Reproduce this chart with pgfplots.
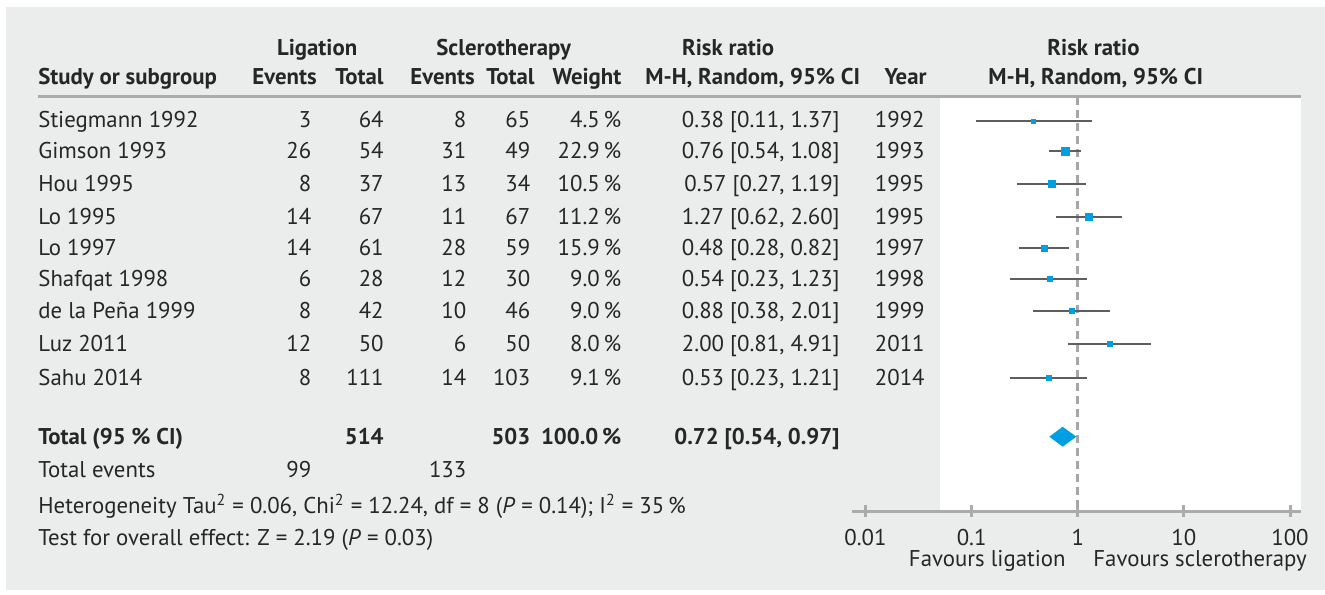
\documentclass[border=0pt]{standalone}
\usepackage{pgfplots}
\pgfplotsset{compat=1.18}
\usepackage{fontspec}
\setmainfont{PT Sans}
\definecolor{bg}{HTML}{EBECEC}
\definecolor{txt}{HTML}{262626}
\definecolor{rule}{HTML}{ABABAB}
\definecolor{mblue}{HTML}{009FE3}
\definecolor{cigray}{HTML}{5E5E5E}
\definecolor{dashgray}{HTML}{A6A6A6}

\begin{document}
\begin{tikzpicture}[font=\fontsize{11.4}{13.7}\selectfont, color=txt]
\begin{scope}[x=0.5pt,y=-0.5pt]
\fill[white] (0,0) rectangle (1325,594);
\fill[bg] (6,7) rectangle (1325,590);
\fill[white] (940,97.5) rectangle (1301,511);
\draw[rule, line width=1.5pt] (38,96) -- (1301,96);

\tikzset{L/.style={anchor=base west, inner sep=0pt}, R/.style={anchor=base east, inner sep=0pt}}
% header
\node[L] at (276.7,55) {\bfseries Ligation};
\node[L] at (436,55) {\bfseries Sclerotherapy};
\node[L] at (681.7,55) {\bfseries Risk ratio};
\node[L] at (1047,55) {\bfseries Risk ratio};
\node[L] at (38,84) {\bfseries Study or subgroup};
\node[R] at (317,84) {\bfseries Events};
\node[R] at (384,84) {\bfseries Total};
\node[R] at (475,84) {\bfseries Events};
\node[R] at (535,84) {\bfseries Total};
\node[R] at (621.7,84) {\bfseries Weight};
\node[L] at (645,84) {\bfseries M-H, Random, 95\% CI};
\node[R] at (927,84) {\bfseries Year};
\node[L] at (988,84) {\bfseries M-H, Random, 95\% CI};

% rows
\foreach \yy/\name/\le/\lt/\se/\st/\wt/\rr/\yr in {
127.5/Stiegmann 1992/3/64/8/65/4.5/{0.38 [0.11, 1.37]}/1992,
158.5/Gimson 1993/26/54/31/49/22.9/{0.76 [0.54, 1.08]}/1993,
191.5/Hou 1995/8/37/13/34/10.5/{0.57 [0.27, 1.19]}/1995,
224/Lo 1995/14/67/11/67/11.2/{1.27 [0.62, 2.60]}/1995,
255.5/Lo 1997/14/61/28/59/15.9/{0.48 [0.28, 0.82]}/1997,
286.5/Shafqat 1998/6/28/12/30/9.0/{0.54 [0.23, 1.23]}/1998,
318.5/de la Peña 1999/8/42/10/46/9.0/{0.88 [0.38, 2.01]}/1999,
351.5/Luz 2011/12/50/6/50/8.0/{2.00 [0.81, 4.91]}/2011,
385.5/Sahu 2014/8/111/14/103/9.1/{0.53 [0.23, 1.21]}/2014}{
\node[L] at (38,\yy) {\name};
\node[R] at (311.7,\yy) {\le};
\node[R] at (384,\yy) {\lt};
\node[R] at (466.7,\yy) {\se};
\node[R] at (530.7,\yy) {\st};
\node[R] at (621.7,\yy) {\wt\,\%};
\node[R] at (840,\yy) {\rr};
\node[R] at (925,\yy) {\yr};
}
\node[L] at (38,444) {\bfseries Total (95 \% CI)};
\node[R] at (384,444) {\bfseries 514};
\node[R] at (530.7,444) {\bfseries 503};
\node[R] at (621.7,444) {\bfseries 100.0\,\%};
\node[R] at (840,444) {\bfseries 0.72 [0.54, 0.97]};
\node[L] at (38,477) {Total events};
\node[R] at (311.7,477) {99};
\node[R] at (466.7,477) {133};
\node[L] at (38,513) {Heterogeneity Tau\textsuperscript{2} = 0.06, Chi\textsuperscript{2} = 12.24, df = 8 (\textit{P} = 0.14); I\textsuperscript{2} = 35\,\%};
\node[L] at (38,545) {Test for overall effect: Z = 2.19 (\textit{P} = 0.03)};
\node[R] at (1066,566) {Favours ligation};
\node[L] at (1093,566) {Favours sclerotherapy};
\end{scope}

\begin{axis}[
  at={(426pt,-48.5pt)}, anchor=north west,
  scale only axis, width=224.5pt, height=207pt,
  xmode=log, xmin=0.007461, xmax=126.95,
  ymin=0, ymax=414,
  clip=false,
  axis x line*=bottom, axis y line=none,
  axis line style={rule, line width=1.5pt},
  xtick={0.01,0.1,1,10,100},
  xticklabels={0.01,0.1,1,10,100},
  minor xtick={}, xminorticks=false,
  major tick length=6pt, tick align=center,
  every tick/.style={rule, line width=1.5pt},
  /pgf/number format/assume math mode=true,
  xticklabel style={font=\fontsize{11.4}{13.7}\selectfont, text=txt, anchor=base, yshift=-14pt, inner sep=0pt},
  sq/.style={only marks, mark=square*, mark options={fill=mblue, draw=mblue, line width=0.1pt}, mark size=#1},
]
\addplot[dashgray, line width=1.5pt, dash pattern=on 4pt off 2.5pt] coordinates {(1,414) (1,0)};
% 95% CI of each study (y = row height above the axis line, px)
\addplot[cigray, line width=0.9pt, unbounded coords=jump] coordinates {
(0.11,390.3) (1.37,390.3) (nan,nan)
(0.54,360) (1.08,360) (nan,nan)
(0.27,327) (1.19,327) (nan,nan)
(0.62,294) (2.60,294) (nan,nan)
(0.28,263) (0.82,263) (nan,nan)
(0.23,232) (1.23,232) (nan,nan)
(0.38,200) (2.01,200) (nan,nan)
(0.81,167) (4.91,167) (nan,nan)
(0.23,133) (1.21,133)
};
% point estimates, square size by weight
\addplot[sq=1.0pt] coordinates {(0.38,390.3)};
\addplot[sq=2.0pt] coordinates {(0.76,360)};
\addplot[sq=1.75pt] coordinates {(0.57,327) (1.27,294)};
\addplot[sq=1.5pt] coordinates {(0.48,263)};
\addplot[sq=1.25pt] coordinates {(0.54,232) (0.88,200) (2.00,167) (0.53,133)};
% pooled estimate
\addplot[fill=mblue, draw=none] coordinates {(0.54,74.3) (0.72,84.3) (0.97,74.3) (0.72,64.3)} -- cycle;
\end{axis}
\end{tikzpicture}
\end{document}
